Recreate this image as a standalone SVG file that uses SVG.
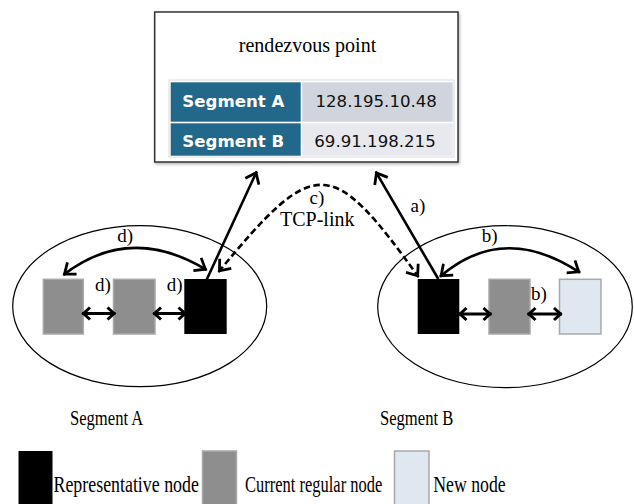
<svg xmlns="http://www.w3.org/2000/svg" width="634" height="504" viewBox="0 0 634 504">
  <defs>
    <style>
      .serif{font-family:"Liberation Serif","Times New Roman",serif;fill:#000}
      .lbl{font-size:19px}
      .leg{font-size:24px}
      .cell{font-family:"DejaVu Sans",Verdana,sans-serif;font-size:16.6px}
      .hdr{fill:#fff;font-weight:bold}
      .ip{fill:#111}
      .seg{fill:none;stroke:#000;stroke-width:1.2}
      .link{fill:none;stroke:#000;stroke-width:2.6}
      .dash{stroke-dasharray:6.5 3.5}
      .short{fill:none;stroke:#000;stroke-width:3}
      .rep{fill:#000}
      .reg{fill:#8e8e8e;stroke:#a9a9a9;stroke-width:1.5}
      .new{fill:#dfe7f0;stroke:#a9a9a9;stroke-width:1.5}
    </style>
    <filter id="soft" x="-5%" y="-5%" width="112%" height="115%">
      <feDropShadow dx="1" dy="1.5" stdDeviation="1.5" flood-color="#000" flood-opacity="0.3"/>
    </filter>
    <!-- open chevron heads; the path end is the tip -->
    <marker id="head" markerUnits="userSpaceOnUse" viewBox="-14 -10 16 20" markerWidth="16" markerHeight="20" refX="0" refY="0" orient="auto-start-reverse" overflow="visible">
      <path d="M-11,-7.5 L-1.5,0 L-11,7.5" fill="none" stroke="#000" stroke-width="2.8"/>
    </marker>
    <marker id="head-s" markerUnits="userSpaceOnUse" viewBox="-12 -8 14 16" markerWidth="14" markerHeight="16" refX="0" refY="0" orient="auto-start-reverse" overflow="visible">
      <path d="M-8,-6 L-1.5,0 L-8,6" fill="none" stroke="#000" stroke-width="3"/>
    </marker>
  </defs>

  <rect width="634" height="504" fill="#fff"/>

  <!-- rendezvous point with its address table -->
  <g id="rendezvous">
    <rect x="154.7" y="12" width="303.3" height="150" fill="#fff" stroke="#333" stroke-width="1.5" filter="url(#soft)"/>
    <text class="serif" font-size="21" transform="translate(307.5,51.7) scale(0.955,1)" text-anchor="middle">rendezvous point</text>
    <rect x="169" y="80" width="285" height="77" fill="#fff" stroke="#dcdcdc" stroke-width="1"/>
    <rect x="170.7" y="82.3" width="130" height="39.4" fill="#21688a"/>
    <rect x="302.2" y="82.3" width="150.5" height="39.4" fill="#d0d5dd"/>
    <rect x="170.7" y="123.3" width="130" height="32.4" fill="#21688a"/>
    <rect x="302.2" y="123.3" width="150.5" height="32.4" fill="#e8e9ee"/>
    <text class="cell hdr" x="182.3" y="106.7">Segment A</text>
    <text class="cell ip" x="315.5" y="106.7">128.195.10.48</text>
    <text class="cell hdr" x="182.3" y="146.7">Segment B</text>
    <text class="cell ip" x="314.3" y="146.7">69.91.198.215</text>
  </g>

  <!-- segment A -->
  <g id="segment-a">
    <ellipse class="seg" cx="139.7" cy="306.2" rx="127" ry="80.5"/>
    <text class="serif" font-size="20" transform="translate(70,425) scale(0.83,1)">Segment A</text>
  </g>
  <g id="node-a1"><rect class="reg" x="43.3" y="279.3" width="40" height="54.7"/></g>
  <g id="node-a2"><rect class="reg" x="113.5" y="279.3" width="41.5" height="54.7"/></g>
  <g id="node-a-rep"><rect class="rep" x="184.3" y="279" width="42.4" height="55"/></g>

  <!-- segment B -->
  <g id="segment-b">
    <ellipse class="seg" cx="505" cy="306.7" rx="127.3" ry="81"/>
    <text class="serif" font-size="20" transform="translate(380,425) scale(0.83,1)">Segment B</text>
  </g>
  <g id="node-b-rep"><rect class="rep" x="417.7" y="279" width="41.6" height="55"/></g>
  <g id="node-b1"><rect class="reg" x="489" y="279.3" width="41" height="54.7"/></g>
  <g id="node-b-new"><rect class="new" x="559.5" y="279.3" width="41.5" height="54.7"/></g>

  <!-- connectors -->
  <g id="connectors">
    <!-- a) registration with the rendezvous point -->
    <path class="link" d="M206.5,280 L256.7,171.5" marker-end="url(#head)"/>
    <path class="link" d="M438.3,279 L375.7,171.7" marker-end="url(#head)"/>
    <!-- c) TCP link between representatives -->
    <path class="link dash" d="M218.5,272 C315,155 331,155 418.5,277" marker-start="url(#head)" marker-end="url(#head)"/>
    <!-- d) links inside segment A -->
    <path class="link" d="M63.3,275 Q130,223.5 206.7,270" marker-start="url(#head)" marker-end="url(#head)"/>
    <path class="short" d="M82,313.5 L115.5,313.5" marker-start="url(#head-s)" marker-end="url(#head-s)"/>
    <path class="short" d="M153,313.5 L186.5,313.5" marker-start="url(#head-s)" marker-end="url(#head-s)"/>
    <!-- b) links inside segment B -->
    <path class="link" d="M440,276.7 Q503.4,221.9 580,272.7" marker-start="url(#head)" marker-end="url(#head)"/>
    <path class="short" d="M458.5,314 L491.5,314" marker-start="url(#head-s)" marker-end="url(#head-s)"/>
    <path class="short" d="M527.5,314 L562,314" marker-start="url(#head-s)" marker-end="url(#head-s)"/>
  </g>

  <!-- connector labels -->
  <g id="labels" class="serif lbl">
    <text x="117.3" y="241.7">d)</text>
    <text x="95" y="290.7">d)</text>
    <text x="166.7" y="290.7">d)</text>
    <text x="309.5" y="204.3">c)</text>
    <text x="280" y="225.5" font-size="20">TCP-link</text>
    <text x="410.5" y="211.5">a)</text>
    <text x="481.7" y="241.7">b)</text>
    <text x="531" y="300">b)</text>
  </g>

  <!-- legend -->
  <g id="legend">
    <rect class="rep" x="18.5" y="451" width="34" height="55"/>
    <text class="serif leg" transform="translate(53.5,491.7) scale(0.745,1)">Representative node</text>
    <rect class="reg" x="202.5" y="451" width="34" height="55"/>
    <text class="serif leg" transform="translate(245,491.7) scale(0.687,1)">Current regular node</text>
    <rect class="new" x="394.5" y="451" width="34.5" height="55"/>
    <text class="serif leg" transform="translate(433.3,491.7) scale(0.739,1)">New node</text>
  </g>
</svg>
